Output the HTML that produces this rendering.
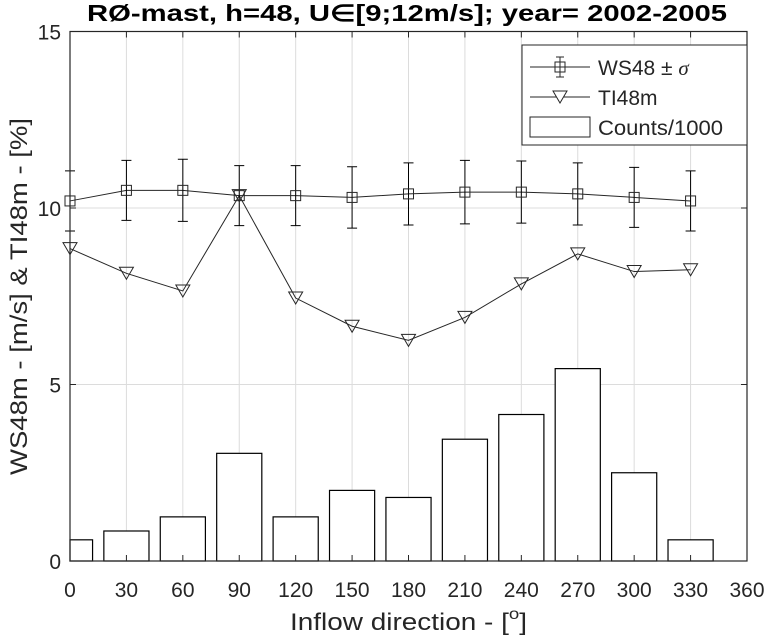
<!DOCTYPE html>
<html><head><meta charset="utf-8"><style>
body{margin:0;background:#fff;}
svg text{font-family:"Liberation Sans",Arial,sans-serif;fill:#262626;}
</style></head><body>
<svg id="chart" width="768" height="638" xmlns="http://www.w3.org/2000/svg">
<rect width="768" height="638" fill="#fff"/>
<g id="grid"></g>
<g id="bars"></g>
<g id="series"></g>
<g id="axes"></g>
<text x="87" y="21" font-size="23" font-weight="bold" textLength="640" lengthAdjust="spacingAndGlyphs" style="fill:#000">RØ-mast, h=48, U∈[9;12m/s]; year= 2002-2005</text>
<text x="290" y="630" font-size="24" textLength="237" lengthAdjust="spacingAndGlyphs">Inflow direction - [<tspan dy="-11" font-size="16">o</tspan><tspan dy="11">]</tspan></text>
<text transform="translate(27,475) rotate(-90)" font-size="24" textLength="357" lengthAdjust="spacingAndGlyphs">WS48m - [m/s] &amp; TI48m - [%]</text>
<g>
<rect x="522" y="45" width="225" height="100" fill="#fff" stroke="#262626" stroke-width="1"/>
<g>
<line x1="530" y1="67" x2="590" y2="67" stroke="#262626"/><line x1="560" y1="57" x2="560" y2="77" stroke="#262626"/><line x1="556" y1="57" x2="564" y2="57" stroke="#262626"/><line x1="556" y1="77" x2="564" y2="77" stroke="#262626"/>
<rect x="555" y="62" width="10" height="10" fill="none" stroke="#262626"/>
<text x="598" y="75" font-size="21">WS48 ± <tspan font-style="italic" font-family="Liberation Serif">σ</tspan></text></g>
<g>
<line x1="530" y1="97" x2="590" y2="97" stroke="#262626"/><polygon points="553,91 567,91 560,103" fill="#fff" stroke="#262626"/>
<text x="598" y="105" font-size="21">TI48m</text></g>
<g>
<rect x="530" y="117" width="60" height="20" fill="#fff" stroke="#262626"/>
<text x="598" y="135" font-size="21" textLength="125" lengthAdjust="spacingAndGlyphs">Counts/1000</text></g>
</g>
</svg>
<script>
const directions=[0,30,60,90,120,150,180,210,240,270,300,330];
const counts=[0.6,0.85,1.25,3.05,1.25,2.0,1.8,3.45,4.15,5.45,2.5,0.6];
const ws48=[10.2,10.5,10.5,10.35,10.35,10.3,10.4,10.45,10.45,10.4,10.3,10.2];
const wsSigma=[0.85,0.85,0.88,0.85,0.85,0.87,0.88,0.9,0.88,0.88,0.85,0.85];
const ti48=[8.85,8.15,7.65,10.35,7.45,6.65,6.25,6.9,7.85,8.7,8.2,8.25];
const xTicks=[0,30,60,90,120,150,180,210,240,270,300,330,360];
const yTicks=[0,5,10,15];
const X0=70,X1=747,Y0=561,Y1=31.5;
const xs=v=>X0+(v/360)*(X1-X0);
const ys=v=>Y0-(v/15)*(Y0-Y1);
const NS="http://www.w3.org/2000/svg";
function mk(tag,parent,attrs){const e=document.createElementNS(NS,tag);for(const k in attrs)e.setAttribute(k,attrs[k]);document.getElementById(parent).appendChild(e);return e;}
xTicks.forEach(t=>{if(t>0&&t<360){const g=mk('line','grid',{x1:xs(t),x2:xs(t),y1:Y0,y2:Y1,stroke:'#dcdcdc'});

}});
yTicks.forEach(t=>{if(t>0&&t<15){const g=mk('line','grid',{x1:X0,x2:X1,y1:ys(t),y2:ys(t),stroke:'#dcdcdc'});

}});
const bw=24;
directions.forEach((d,i)=>{let a=Math.max(0,d-bw/2),b=d+bw/2;
const r=mk('rect','bars',{x:xs(a),y:ys(counts[i]),width:xs(b)-xs(a),height:Y0-ys(counts[i]),fill:'#fff',stroke:'#000','stroke-width':1.2});

});
const wsLine=mk('polyline','series',{points:directions.map((d,i)=>xs(d)+','+ys(ws48[i])).join(' '),fill:'none',stroke:'#262626'});


const tiLine=mk('polyline','series',{points:directions.map((d,i)=>xs(d)+','+ys(ti48[i])).join(' '),fill:'none',stroke:'#262626'});


directions.forEach((d,i)=>{const x=xs(d),yt=ys(ws48[i]+wsSigma[i]),yb=ys(ws48[i]-wsSigma[i]);
const e=mk('path','series',{d:`M${x},${yt}V${yb}M${x-5},${yt}H${x+5}M${x-5},${yb}H${x+5}`,stroke:'#000',fill:'none'});


const m=mk('rect','series',{x:x-5,y:ys(ws48[i])-5,width:10,height:10,fill:'none',stroke:'#262626'});


const y=ys(ti48[i]);
const t=mk('polygon','series',{points:`${x-7},${y-6} ${x+7},${y-6} ${x},${y+6}`,fill:'none',stroke:'#262626'});

});
const box=mk('rect','axes',{x:X0,y:Y1,width:X1-X0,height:Y0-Y1,fill:'none',stroke:'#262626','stroke-width':1.2});


xTicks.forEach(t=>{mk('line','axes',{x1:xs(t),x2:xs(t),y1:Y0,y2:Y0-6,stroke:'#262626'});mk('line','axes',{x1:xs(t),x2:xs(t),y1:Y1,y2:Y1+6,stroke:'#262626'});
const l=mk('text','axes',{x:xs(t),y:597,'font-size':21,'text-anchor':'middle'});l.textContent=t;

});
yTicks.forEach(t=>{mk('line','axes',{x1:X0,x2:X0+6,y1:ys(t),y2:ys(t),stroke:'#262626'});mk('line','axes',{x1:X1,x2:X1-6,y1:ys(t),y2:ys(t),stroke:'#262626'});
const l=mk('text','axes',{x:61,y:ys(t)+8,'font-size':21,'text-anchor':'end'});l.textContent=t;

});
</script>
</body></html>
